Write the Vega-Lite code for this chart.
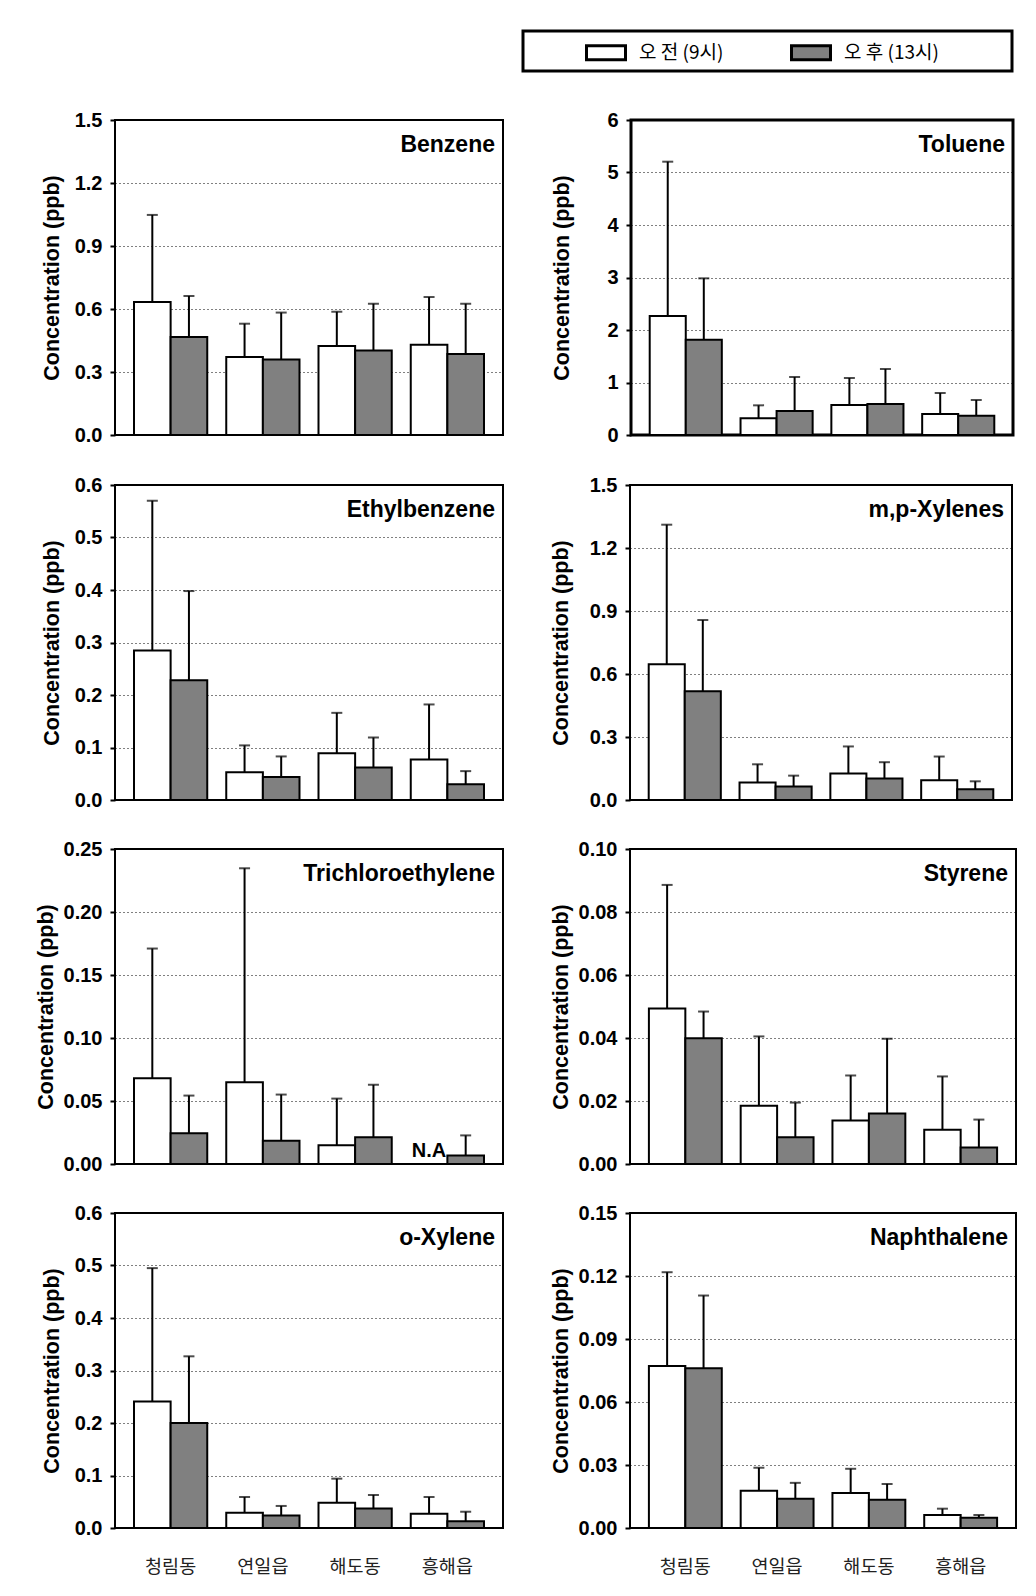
{
  "$schema": "https://vega.github.io/schema/vega-lite/v6.json",
  "padding": {"left": 34, "top": 29, "right": 5, "bottom": 5},
  "background": "white",
  "datasets": {
    "vocs": [
      {"chem": "Benzene", "site": "청림동", "series": "오 전 (9시)", "mean": 0.633, "upper": 1.048},
      {"chem": "Benzene", "site": "청림동", "series": "오 후 (13시)", "mean": 0.467, "upper": 0.662},
      {"chem": "Benzene", "site": "연일읍", "series": "오 전 (9시)", "mean": 0.371, "upper": 0.530},
      {"chem": "Benzene", "site": "연일읍", "series": "오 후 (13시)", "mean": 0.359, "upper": 0.583},
      {"chem": "Benzene", "site": "해도동", "series": "오 전 (9시)", "mean": 0.424, "upper": 0.587},
      {"chem": "Benzene", "site": "해도동", "series": "오 후 (13시)", "mean": 0.402, "upper": 0.625},
      {"chem": "Benzene", "site": "흥해읍", "series": "오 전 (9시)", "mean": 0.430, "upper": 0.657},
      {"chem": "Benzene", "site": "흥해읍", "series": "오 후 (13시)", "mean": 0.386, "upper": 0.625},

      {"chem": "Toluene", "site": "청림동", "series": "오 전 (9시)", "mean": 2.267, "upper": 5.206},
      {"chem": "Toluene", "site": "청림동", "series": "오 후 (13시)", "mean": 1.816, "upper": 2.984},
      {"chem": "Toluene", "site": "연일읍", "series": "오 전 (9시)", "mean": 0.317, "upper": 0.565},
      {"chem": "Toluene", "site": "연일읍", "series": "오 후 (13시)", "mean": 0.457, "upper": 1.105},
      {"chem": "Toluene", "site": "해도동", "series": "오 전 (9시)", "mean": 0.571, "upper": 1.086},
      {"chem": "Toluene", "site": "해도동", "series": "오 후 (13시)", "mean": 0.590, "upper": 1.257},
      {"chem": "Toluene", "site": "흥해읍", "series": "오 전 (9시)", "mean": 0.400, "upper": 0.800},
      {"chem": "Toluene", "site": "흥해읍", "series": "오 후 (13시)", "mean": 0.368, "upper": 0.667},

      {"chem": "Ethylbenzene", "site": "청림동", "series": "오 전 (9시)", "mean": 0.285, "upper": 0.570},
      {"chem": "Ethylbenzene", "site": "청림동", "series": "오 후 (13시)", "mean": 0.228, "upper": 0.398},
      {"chem": "Ethylbenzene", "site": "연일읍", "series": "오 전 (9시)", "mean": 0.053, "upper": 0.104},
      {"chem": "Ethylbenzene", "site": "연일읍", "series": "오 후 (13시)", "mean": 0.044, "upper": 0.083},
      {"chem": "Ethylbenzene", "site": "해도동", "series": "오 전 (9시)", "mean": 0.089, "upper": 0.166},
      {"chem": "Ethylbenzene", "site": "해도동", "series": "오 후 (13시)", "mean": 0.062, "upper": 0.119},
      {"chem": "Ethylbenzene", "site": "흥해읍", "series": "오 전 (9시)", "mean": 0.077, "upper": 0.182},
      {"chem": "Ethylbenzene", "site": "흥해읍", "series": "오 후 (13시)", "mean": 0.030, "upper": 0.055},

      {"chem": "m,p-Xylenes", "site": "청림동", "series": "오 전 (9시)", "mean": 0.646, "upper": 1.311},
      {"chem": "m,p-Xylenes", "site": "청림동", "series": "오 후 (13시)", "mean": 0.518, "upper": 0.857},
      {"chem": "m,p-Xylenes", "site": "연일읍", "series": "오 전 (9시)", "mean": 0.083, "upper": 0.170},
      {"chem": "m,p-Xylenes", "site": "연일읍", "series": "오 후 (13시)", "mean": 0.064, "upper": 0.116},
      {"chem": "m,p-Xylenes", "site": "해도동", "series": "오 전 (9시)", "mean": 0.126, "upper": 0.255},
      {"chem": "m,p-Xylenes", "site": "해도동", "series": "오 후 (13시)", "mean": 0.102, "upper": 0.180},
      {"chem": "m,p-Xylenes", "site": "흥해읍", "series": "오 전 (9시)", "mean": 0.094, "upper": 0.207},
      {"chem": "m,p-Xylenes", "site": "흥해읍", "series": "오 후 (13시)", "mean": 0.051, "upper": 0.089},

      {"chem": "Trichloroethylene", "site": "청림동", "series": "오 전 (9시)", "mean": 0.0680, "upper": 0.1710},
      {"chem": "Trichloroethylene", "site": "청림동", "series": "오 후 (13시)", "mean": 0.0244, "upper": 0.0543},
      {"chem": "Trichloroethylene", "site": "연일읍", "series": "오 전 (9시)", "mean": 0.0649, "upper": 0.2347},
      {"chem": "Trichloroethylene", "site": "연일읍", "series": "오 후 (13시)", "mean": 0.0185, "upper": 0.0551},
      {"chem": "Trichloroethylene", "site": "해도동", "series": "오 전 (9시)", "mean": 0.0148, "upper": 0.0519},
      {"chem": "Trichloroethylene", "site": "해도동", "series": "오 후 (13시)", "mean": 0.0212, "upper": 0.0628},
      {"chem": "Trichloroethylene", "site": "흥해읍", "series": "오 전 (9시)", "mean": null, "upper": null, "note": "N.A"},
      {"chem": "Trichloroethylene", "site": "흥해읍", "series": "오 후 (13시)", "mean": 0.0068, "upper": 0.0227},

      {"chem": "Styrene", "site": "청림동", "series": "오 전 (9시)", "mean": 0.0494, "upper": 0.0886},
      {"chem": "Styrene", "site": "청림동", "series": "오 후 (13시)", "mean": 0.0399, "upper": 0.0484},
      {"chem": "Styrene", "site": "연일읍", "series": "오 전 (9시)", "mean": 0.0185, "upper": 0.0405},
      {"chem": "Styrene", "site": "연일읍", "series": "오 후 (13시)", "mean": 0.0085, "upper": 0.0195},
      {"chem": "Styrene", "site": "해도동", "series": "오 전 (9시)", "mean": 0.0138, "upper": 0.0281},
      {"chem": "Styrene", "site": "해도동", "series": "오 후 (13시)", "mean": 0.0160, "upper": 0.0398},
      {"chem": "Styrene", "site": "흥해읍", "series": "오 전 (9시)", "mean": 0.0109, "upper": 0.0278},
      {"chem": "Styrene", "site": "흥해읍", "series": "오 후 (13시)", "mean": 0.0052, "upper": 0.0141},

      {"chem": "o-Xylene", "site": "청림동", "series": "오 전 (9시)", "mean": 0.241, "upper": 0.495},
      {"chem": "o-Xylene", "site": "청림동", "series": "오 후 (13시)", "mean": 0.200, "upper": 0.327},
      {"chem": "o-Xylene", "site": "연일읍", "series": "오 전 (9시)", "mean": 0.029, "upper": 0.059},
      {"chem": "o-Xylene", "site": "연일읍", "series": "오 후 (13시)", "mean": 0.024, "upper": 0.042},
      {"chem": "o-Xylene", "site": "해도동", "series": "오 전 (9시)", "mean": 0.048, "upper": 0.094},
      {"chem": "o-Xylene", "site": "해도동", "series": "오 후 (13시)", "mean": 0.037, "upper": 0.063},
      {"chem": "o-Xylene", "site": "흥해읍", "series": "오 전 (9시)", "mean": 0.027, "upper": 0.059},
      {"chem": "o-Xylene", "site": "흥해읍", "series": "오 후 (13시)", "mean": 0.013, "upper": 0.031},

      {"chem": "Naphthalene", "site": "청림동", "series": "오 전 (9시)", "mean": 0.0771, "upper": 0.1218},
      {"chem": "Naphthalene", "site": "청림동", "series": "오 후 (13시)", "mean": 0.0761, "upper": 0.1107},
      {"chem": "Naphthalene", "site": "연일읍", "series": "오 전 (9시)", "mean": 0.0177, "upper": 0.0287},
      {"chem": "Naphthalene", "site": "연일읍", "series": "오 후 (13시)", "mean": 0.0139, "upper": 0.0215},
      {"chem": "Naphthalene", "site": "해도동", "series": "오 전 (9시)", "mean": 0.0167, "upper": 0.0282},
      {"chem": "Naphthalene", "site": "해도동", "series": "오 후 (13시)", "mean": 0.0134, "upper": 0.0210},
      {"chem": "Naphthalene", "site": "흥해읍", "series": "오 전 (9시)", "mean": 0.0062, "upper": 0.0092},
      {"chem": "Naphthalene", "site": "흥해읍", "series": "오 후 (13시)", "mean": 0.0049, "upper": 0.0062}
    ]
  },
  "columns": 2,
  "spacing": {"row": 27, "column": 45},
  "align": "none",
  "resolve": {"scale": {"x": "independent", "y": "independent", "xOffset": "independent", "fill": "shared"}, "axis": {"x": "independent", "y": "independent"}},
  "concat": [
    {
      "width": 388, "height": 315,
      "title": {"text": "Benzene"},
      "data": {"name": "vocs"},
      "transform": [{"filter": "datum.chem === 'Benzene'"}],
      "encoding": {
        "x": {"field": "site", "type": "nominal", "sort": ["청림동", "연일읍", "해도동", "흥해읍"], "scale": {"paddingInner": 0.206, "paddingOuter": 0.206}, "axis": null},
        "xOffset": {"field": "series", "type": "nominal", "sort": ["오 전 (9시)", "오 후 (13시)"], "scale": {"paddingInner": 0, "paddingOuter": 0}}
      },
      "layer": [
        {"mark": {"type": "bar", "stroke": "black", "strokeWidth": 2},
         "encoding": {
           "y": {"field": "mean", "type": "quantitative", "title": "Concentration (ppb)", "scale": {"domain": [0, 1.5], "nice": false}, "axis": {"values": [0, 0.3, 0.6, 0.9, 1.2, 1.5], "format": ".1f", "minExtent": 52, "maxExtent": 52, "titlePadding": 0}},
           "fill": {"field": "series", "type": "nominal", "scale": {"domain": ["오 전 (9시)", "오 후 (13시)"], "range": ["#ffffff", "#808080"]},
             "legend": {"orient": "none", "legendX": 408, "legendY": -89, "direction": "horizontal", "title": "\u00a0", "titleOrient": "left", "titlePadding": 57, "titleFontSize": 17,
               "symbolType": "M-1,-0.6H1V0.12H-1Z", "symbolSize": 1521, "symbolStrokeWidth": 3, "symbolStrokeColor": "black", "symbolOpacity": 1,
               "labelFont": "Noto Sans CJK KR", "labelFontSize": 19, "labelColor": "black", "labelOffset": 12, "labelLimit": 400, "columnPadding": 61, "padding": 5, "strokeColor": "black",
               "labelExpr": "datum.value === '오 후 (13시)' ? datum.value + '\u00a0\u00a0\u00a0\u00a0\u00a0\u00a0\u00a0\u00a0\u00a0\u00a0\u00a0\u00a0\u00a0\u00a0\u00a0\u00a0\u200b' : datum.value",
               "encode": {"legend": {"update": {"strokeWidth": {"value": 3}}},
                          "symbols": {"update": {"fill": {"signal": "datum.value === '오 후 (13시)' ? '#c0c0c0' : '#ffffff'"}, "stroke": {"value": "black"}, "strokeWidth": {"value": 3}, "opacity": {"value": 1}}},
                          "labels": {"update": {"dy": {"value": -4}}}}}}
         }},
        {"mark": {"type": "rule", "stroke": "black", "strokeWidth": 2},
         "encoding": {"y": {"field": "mean", "type": "quantitative", "title": "Concentration (ppb)"}, "y2": {"field": "upper"}}},
        {"mark": {"type": "tick", "color": "black", "size": 11, "thickness": 2},
         "encoding": {"y": {"field": "upper", "type": "quantitative", "title": "Concentration (ppb)"}}}
      ]
    },
    {
      "width": 382, "height": 315,
      "view": {"stroke": "black", "strokeWidth": 3},
      "title": {"text": "Toluene"},
      "data": {"name": "vocs"},
      "transform": [{"filter": "datum.chem === 'Toluene'"}],
      "encoding": {
        "x": {"field": "site", "type": "nominal", "sort": ["청림동", "연일읍", "해도동", "흥해읍"], "scale": {"paddingInner": 0.206, "paddingOuter": 0.206}, "axis": null},
        "xOffset": {"field": "series", "type": "nominal", "sort": ["오 전 (9시)", "오 후 (13시)"], "scale": {"paddingInner": 0, "paddingOuter": 0}}
      },
      "layer": [
        {"mark": {"type": "bar", "stroke": "black", "strokeWidth": 2},
         "encoding": {
           "y": {"field": "mean", "type": "quantitative", "title": "Concentration (ppb)", "scale": {"domain": [0, 6], "nice": false}, "axis": {"values": [0, 1, 2, 3, 4, 5, 6], "format": "d", "minExtent": 58, "maxExtent": 58, "titlePadding": 0}},
           "fill": {"field": "series", "type": "nominal", "scale": {"domain": ["오 전 (9시)", "오 후 (13시)"], "range": ["#ffffff", "#808080"]}}
         }},
        {"mark": {"type": "rule", "stroke": "black", "strokeWidth": 2},
         "encoding": {"y": {"field": "mean", "type": "quantitative", "title": "Concentration (ppb)"}, "y2": {"field": "upper"}}},
        {"mark": {"type": "tick", "color": "black", "size": 11, "thickness": 2},
         "encoding": {"y": {"field": "upper", "type": "quantitative", "title": "Concentration (ppb)"}}}
      ]
    },
    {
      "width": 388, "height": 315,
      "title": {"text": "Ethylbenzene"},
      "data": {"name": "vocs"},
      "transform": [{"filter": "datum.chem === 'Ethylbenzene'"}],
      "encoding": {
        "x": {"field": "site", "type": "nominal", "sort": ["청림동", "연일읍", "해도동", "흥해읍"], "scale": {"paddingInner": 0.206, "paddingOuter": 0.206}, "axis": null},
        "xOffset": {"field": "series", "type": "nominal", "sort": ["오 전 (9시)", "오 후 (13시)"], "scale": {"paddingInner": 0, "paddingOuter": 0}}
      },
      "layer": [
        {"mark": {"type": "bar", "stroke": "black", "strokeWidth": 2},
         "encoding": {
           "y": {"field": "mean", "type": "quantitative", "title": "Concentration (ppb)", "scale": {"domain": [0, 0.6], "nice": false}, "axis": {"values": [0, 0.1, 0.2, 0.3, 0.4, 0.5, 0.6], "format": ".1f", "minExtent": 52, "maxExtent": 52, "titlePadding": 0}},
           "fill": {"field": "series", "type": "nominal", "scale": {"domain": ["오 전 (9시)", "오 후 (13시)"], "range": ["#ffffff", "#808080"]}}
         }},
        {"mark": {"type": "rule", "stroke": "black", "strokeWidth": 2},
         "encoding": {"y": {"field": "mean", "type": "quantitative", "title": "Concentration (ppb)"}, "y2": {"field": "upper"}}},
        {"mark": {"type": "tick", "color": "black", "size": 11, "thickness": 2},
         "encoding": {"y": {"field": "upper", "type": "quantitative", "title": "Concentration (ppb)"}}}
      ]
    },
    {
      "width": 382, "height": 315,
      "title": {"text": "m,p-Xylenes"},
      "data": {"name": "vocs"},
      "transform": [{"filter": "datum.chem === 'm,p-Xylenes'"}],
      "encoding": {
        "x": {"field": "site", "type": "nominal", "sort": ["청림동", "연일읍", "해도동", "흥해읍"], "scale": {"paddingInner": 0.206, "paddingOuter": 0.206}, "axis": null},
        "xOffset": {"field": "series", "type": "nominal", "sort": ["오 전 (9시)", "오 후 (13시)"], "scale": {"paddingInner": 0, "paddingOuter": 0}}
      },
      "layer": [
        {"mark": {"type": "bar", "stroke": "black", "strokeWidth": 2},
         "encoding": {
           "y": {"field": "mean", "type": "quantitative", "title": "Concentration (ppb)", "scale": {"domain": [0, 1.5], "nice": false}, "axis": {"values": [0, 0.3, 0.6, 0.9, 1.2, 1.5], "format": ".1f", "minExtent": 58, "maxExtent": 58, "titlePadding": 0}},
           "fill": {"field": "series", "type": "nominal", "scale": {"domain": ["오 전 (9시)", "오 후 (13시)"], "range": ["#ffffff", "#808080"]}}
         }},
        {"mark": {"type": "rule", "stroke": "black", "strokeWidth": 2},
         "encoding": {"y": {"field": "mean", "type": "quantitative", "title": "Concentration (ppb)"}, "y2": {"field": "upper"}}},
        {"mark": {"type": "tick", "color": "black", "size": 11, "thickness": 2},
         "encoding": {"y": {"field": "upper", "type": "quantitative", "title": "Concentration (ppb)"}}}
      ]
    },
    {
      "width": 388, "height": 315,
      "title": {"text": "Trichloroethylene"},
      "data": {"name": "vocs"},
      "transform": [{"filter": "datum.chem === 'Trichloroethylene'"}],
      "encoding": {
        "x": {"field": "site", "type": "nominal", "sort": ["청림동", "연일읍", "해도동", "흥해읍"], "scale": {"paddingInner": 0.206, "paddingOuter": 0.206}, "axis": null},
        "xOffset": {"field": "series", "type": "nominal", "sort": ["오 전 (9시)", "오 후 (13시)"], "scale": {"paddingInner": 0, "paddingOuter": 0}}
      },
      "layer": [
        {"mark": {"type": "bar", "stroke": "black", "strokeWidth": 2},
         "encoding": {
           "y": {"field": "mean", "type": "quantitative", "title": "Concentration (ppb)", "scale": {"domain": [0, 0.25], "nice": false}, "axis": {"values": [0, 0.05, 0.1, 0.15, 0.2, 0.25], "format": ".2f", "minExtent": 58, "maxExtent": 58, "titlePadding": 0}},
           "fill": {"field": "series", "type": "nominal", "scale": {"domain": ["오 전 (9시)", "오 후 (13시)"], "range": ["#ffffff", "#808080"]}}
         }},
        {"mark": {"type": "rule", "stroke": "black", "strokeWidth": 2},
         "encoding": {"y": {"field": "mean", "type": "quantitative", "title": "Concentration (ppb)"}, "y2": {"field": "upper"}}},
        {"mark": {"type": "tick", "color": "black", "size": 11, "thickness": 2},
         "encoding": {"y": {"field": "upper", "type": "quantitative", "title": "Concentration (ppb)"}}},
        {"transform": [{"filter": "datum.note != null"}],
         "mark": {"type": "text", "font": "Liberation Sans", "fontSize": 20, "fontWeight": "bold", "color": "black", "baseline": "bottom", "dy": -3},
         "encoding": {"y": {"datum": 0, "type": "quantitative"}, "text": {"field": "note"}}}
      ]
    },
    {
      "width": 386, "height": 315,
      "title": {"text": "Styrene"},
      "data": {"name": "vocs"},
      "transform": [{"filter": "datum.chem === 'Styrene'"}],
      "encoding": {
        "x": {"field": "site", "type": "nominal", "sort": ["청림동", "연일읍", "해도동", "흥해읍"], "scale": {"paddingInner": 0.206, "paddingOuter": 0.206}, "axis": null},
        "xOffset": {"field": "series", "type": "nominal", "sort": ["오 전 (9시)", "오 후 (13시)"], "scale": {"paddingInner": 0, "paddingOuter": 0}}
      },
      "layer": [
        {"mark": {"type": "bar", "stroke": "black", "strokeWidth": 2},
         "encoding": {
           "y": {"field": "mean", "type": "quantitative", "title": "Concentration (ppb)", "scale": {"domain": [0, 0.1], "nice": false}, "axis": {"values": [0, 0.02, 0.04, 0.06, 0.08, 0.1], "format": ".2f", "minExtent": 58, "maxExtent": 58, "titlePadding": 0}},
           "fill": {"field": "series", "type": "nominal", "scale": {"domain": ["오 전 (9시)", "오 후 (13시)"], "range": ["#ffffff", "#808080"]}}
         }},
        {"mark": {"type": "rule", "stroke": "black", "strokeWidth": 2},
         "encoding": {"y": {"field": "mean", "type": "quantitative", "title": "Concentration (ppb)"}, "y2": {"field": "upper"}}},
        {"mark": {"type": "tick", "color": "black", "size": 11, "thickness": 2},
         "encoding": {"y": {"field": "upper", "type": "quantitative", "title": "Concentration (ppb)"}}}
      ]
    },
    {
      "width": 388, "height": 315,
      "title": {"text": "o-Xylene"},
      "data": {"name": "vocs"},
      "transform": [{"filter": "datum.chem === 'o-Xylene'"}],
      "encoding": {
        "x": {"field": "site", "type": "nominal", "sort": ["청림동", "연일읍", "해도동", "흥해읍"], "scale": {"paddingInner": 0.206, "paddingOuter": 0.206},
          "axis": {"title": null, "ticks": false, "domain": false, "labelPadding": 29, "labelAngle": 0, "labelFont": "Noto Sans CJK KR", "labelFontSize": 18.5, "labelColor": "#222222", "labelFontWeight": "normal"}},
        "xOffset": {"field": "series", "type": "nominal", "sort": ["오 전 (9시)", "오 후 (13시)"], "scale": {"paddingInner": 0, "paddingOuter": 0}}
      },
      "layer": [
        {"mark": {"type": "bar", "stroke": "black", "strokeWidth": 2},
         "encoding": {
           "y": {"field": "mean", "type": "quantitative", "title": "Concentration (ppb)", "scale": {"domain": [0, 0.6], "nice": false}, "axis": {"values": [0, 0.1, 0.2, 0.3, 0.4, 0.5, 0.6], "format": ".1f", "minExtent": 52, "maxExtent": 52, "titlePadding": 0}},
           "fill": {"field": "series", "type": "nominal", "scale": {"domain": ["오 전 (9시)", "오 후 (13시)"], "range": ["#ffffff", "#808080"]}}
         }},
        {"mark": {"type": "rule", "stroke": "black", "strokeWidth": 2},
         "encoding": {"y": {"field": "mean", "type": "quantitative", "title": "Concentration (ppb)"}, "y2": {"field": "upper"}}},
        {"mark": {"type": "tick", "color": "black", "size": 11, "thickness": 2},
         "encoding": {"y": {"field": "upper", "type": "quantitative", "title": "Concentration (ppb)"}}}
      ]
    },
    {
      "width": 386, "height": 315,
      "title": {"text": "Naphthalene"},
      "data": {"name": "vocs"},
      "transform": [{"filter": "datum.chem === 'Naphthalene'"}],
      "encoding": {
        "x": {"field": "site", "type": "nominal", "sort": ["청림동", "연일읍", "해도동", "흥해읍"], "scale": {"paddingInner": 0.206, "paddingOuter": 0.206},
          "axis": {"title": null, "ticks": false, "domain": false, "labelPadding": 29, "labelAngle": 0, "labelFont": "Noto Sans CJK KR", "labelFontSize": 18.5, "labelColor": "#222222", "labelFontWeight": "normal"}},
        "xOffset": {"field": "series", "type": "nominal", "sort": ["오 전 (9시)", "오 후 (13시)"], "scale": {"paddingInner": 0, "paddingOuter": 0}}
      },
      "layer": [
        {"mark": {"type": "bar", "stroke": "black", "strokeWidth": 2},
         "encoding": {
           "y": {"field": "mean", "type": "quantitative", "title": "Concentration (ppb)", "scale": {"domain": [0, 0.15], "nice": false}, "axis": {"values": [0, 0.03, 0.06, 0.09, 0.12, 0.15], "format": ".2f", "minExtent": 58, "maxExtent": 58, "titlePadding": 0}},
           "fill": {"field": "series", "type": "nominal", "scale": {"domain": ["오 전 (9시)", "오 후 (13시)"], "range": ["#ffffff", "#808080"]}}
         }},
        {"mark": {"type": "rule", "stroke": "black", "strokeWidth": 2},
         "encoding": {"y": {"field": "mean", "type": "quantitative", "title": "Concentration (ppb)"}, "y2": {"field": "upper"}}},
        {"mark": {"type": "tick", "color": "black", "size": 11, "thickness": 2},
         "encoding": {"y": {"field": "upper", "type": "quantitative", "title": "Concentration (ppb)"}}}
      ]
    }
  ],
  "config": {
    "font": "Liberation Sans",
    "view": {"stroke": "black", "strokeWidth": 2},
    "axisY": {"labelFont": "Liberation Sans", "labelFontSize": 20, "labelFontWeight": "bold", "labelColor": "black", "titleFont": "Liberation Sans", "titleFontSize": 21.5, "titleFontWeight": "bold", "titleColor": "black", "tickSize": 5, "tickColor": "black", "tickWidth": 2, "labelPadding": 8, "domain": false, "grid": true, "gridColor": "black", "gridDash": [1, 3], "gridWidth": 1, "gridOpacity": 1},
    "title": {"anchor": "end", "frame": "group", "fontSize": 23, "fontWeight": "bold", "color": "black", "font": "Liberation Sans", "offset": -47, "dx": -8}
  }
}
